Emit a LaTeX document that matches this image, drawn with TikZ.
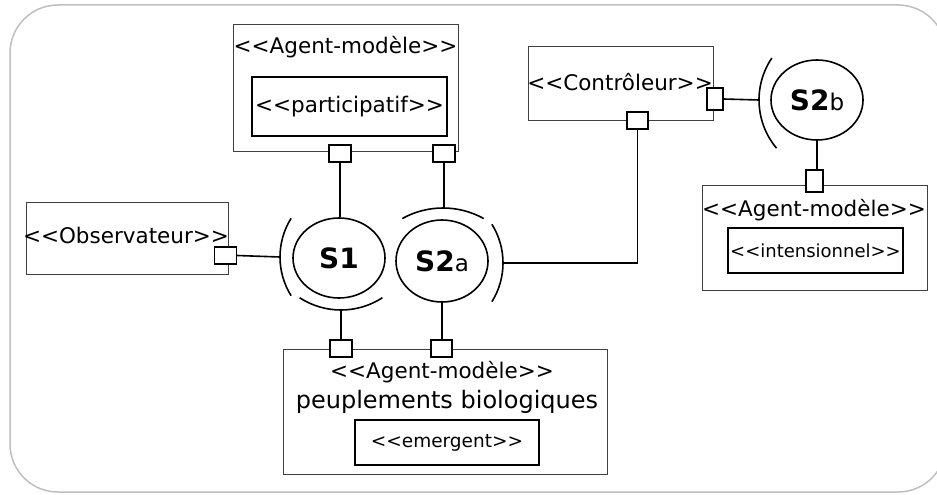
\documentclass[tikz,border=0pt]{standalone}
\usepackage{fontspec}
\setmainfont{DejaVu Sans}
\usepackage{tikz}
\usetikzlibrary{positioning}
\usetikzlibrary{calc}
\usetikzlibrary{shapes.geometric}
\newcommand\stereo[1]{<{}<#1>{}>}
\begin{document}
\begin{tikzpicture}[x=1pt,y=-1pt,
    block/.style={draw=black!75,line width=1pt,rectangle,inner sep=0pt},
    inbox/.style={draw=black,line width=1.2pt,rectangle,inner sep=0pt},
    port/.style={draw=black,fill=white,line width=1.3pt,rectangle,inner sep=0pt,
    minimum width=21pt,minimum height=17pt},
    comp/.style={draw=black,line width=1.6pt,ellipse,inner sep=0pt,
    minimum width=92pt,minimum height=80pt,font=\fontsize{28}{32}\selectfont\bfseries},
    sock/.style={draw=black,line width=1.6pt},
    link/.style={draw=black,line width=1.6pt},
    txt/.style={inner sep=0pt,font=\fontsize{21.5}{26}\selectfont},
    big/.style={inner sep=0pt,font=\fontsize{24}{28}\selectfont}]
    \useasboundingbox (0,0) rectangle (937,495);
    \draw[black!25,line width=1.5pt,rounded corners=48pt] (10,5) rectangle (946,492);

    % boxes
    \node[block,minimum width=225pt,minimum height=126pt] (top) at (345.5,88) {};
    \node[txt] (toplbl) at (345.5,47) {\stereo{Agent-modèle}};
    \node[inbox,minimum width=195pt,minimum height=59pt] (partic) at (349.5,106.5)
    {\fontsize{21.5}{26}\selectfont\stereo{participatif}};
    \node[block,minimum width=202pt,minimum height=72pt] (obs) at (127,238) {};
    \node[txt] (obslbl) at (126,235) {\stereo{Observateur}};
    \node[block,minimum width=185pt,minimum height=73pt] (ctrl) at (620.5,83.5) {};
    \node[txt] (ctrllbl) at (620,82) {\stereo{Contrôleur}};
    \node[block,minimum width=225pt,minimum height=105pt] (right) at (814.5,237.5) {};
    \node[txt] (rightlbl) at (814,210) {\stereo{Agent-modèle}};
    \node[inbox,minimum width=175pt,minimum height=45pt] (intens) at (815.5,250.5)
    {\fontsize{18}{22}\selectfont\stereo{intensionnel}};
    \node[block,minimum width=324pt,minimum height=125pt] (bottom) at (445,411.5) {};
    \node[txt] (bottomlbl) at (442,372) {\stereo{Agent-modèle}};
    \node[big] (peupl) at (447,402) {peuplements biologiques};
    \node[inbox,minimum width=184pt,minimum height=45pt] (emerg) at (447,442.5)
    {\fontsize{18.5}{22}\selectfont\stereo{emergent}};

    % ports
    \node[port,minimum width=22pt] (tp1) at (340,153.5) {};
    \node[port,minimum width=22pt] (tp2) at (444,153.5) {};
    \node[port,minimum width=22pt] (op) at (225.5,255.5) {};
    \node[port,minimum width=16pt,minimum height=22pt] (cp1) at (715,99) {};
    \node[port] (cp2) at (637.5,120.5) {};
    \node[port,minimum width=17pt,minimum height=22pt] (rp) at (814.5,181) {};
    \node[port,minimum width=22pt] (bp1) at (341,348.5) {};
    \node[port] (bp2) at (441.5,348.5) {};

    % components
    \node[comp] (s1) at (339,258) {S1};
    \node[comp,minimum height=82pt] (s2a) at (442,261)
    {S2{\mdseries\fontsize{23}{27}\selectfont a}};
    \node[comp] (s2b) at (817,100) {S2{\mdseries\fontsize{23}{27}\selectfont b}};

    % sockets
    \draw[sock] ($(s1)+(14,-1)+(148:73)$) arc[start angle=148,end angle=212,radius=73];
    \draw[sock] ($(s1)+(2,-24)+(57:76)$) arc[start angle=57,end angle=123,radius=76];
    \draw[sock] ($(s2a)+(1,31)+(241:84)$) arc[start angle=241,end angle=299,radius=84];
    \draw[sock] ($(s2a)+(-12,2)+(-32:73)$) arc[start angle=-32,end angle=32,radius=73];
    \draw[sock] ($(s2b)+(17,0)+(140:75)$) arc[start angle=140,end angle=214,radius=75];
    \coordinate (s1left) at ($(s1)+(-59,-1)$);
    \coordinate (s1low) at ($(s1)+(2,52)$);
    \coordinate (s2atop) at ($(s2a)+(1,-53)$);
    \coordinate (s2aright) at ($(s2a)+(61,2)$);
    \coordinate (s2bleft) at ($(s2b)+(-58,0)$);

    % links
    \draw[link] (op.east) -- (s1left);
    \draw[link] (tp1.south) -- (tp1.south |- s1.north);
    \draw[link] (tp2.south) -- (tp2.south |- s2atop);
    \draw[link] (s1low) -- (s1low |- bp1.north);
    \draw[link] (s2a.south) -- (s2a.south |- bp2.north);
    \draw[link] (cp2.south) |- (s2aright);
    \draw[link] (cp1.east) -- (s2bleft);
    \draw[link] (s2b.south) -- (s2b.south |- rp.north);
\end{tikzpicture}
\end{document}
